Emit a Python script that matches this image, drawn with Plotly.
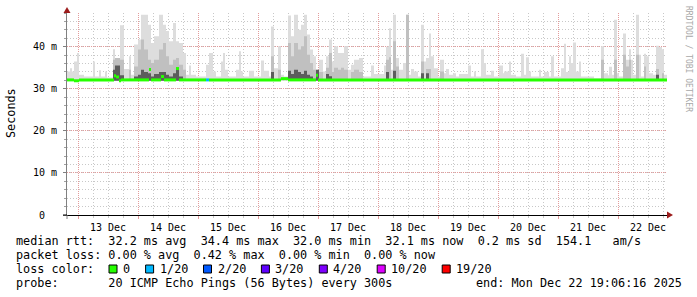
import pandas as pd
import plotly.graph_objects as go

# ---------------- data ----------------
T0 = pd.Timestamp("2025-12-13 00:00")          # reference for hour offsets
X_START = pd.Timestamp("2025-12-12 19:36")
X_END = pd.Timestamp("2025-12-22 19:36")

# smoke columns: start hour (from Dec 13 00:00) and max ping (ms)
smoke_h = [-4.8, -3.2, -2.4, -1.6, -0.4, 0.4, 2.4, 6.0, 6.8, 8.4, 9.2, 10.8, 11.6, 14.0, 14.8, 16.8,
           18.4, 20.4, 21.2, 22.4, 24.0, 25.2, 26.4, 28.0, 29.2, 30.4, 32.4, 34.0, 35.2, 36.4, 38.0,
           39.2, 40.4, 42.0, 43.2, 44.4, 45.2, 47.2, 51.2, 52.4, 54.0, 55.2, 57.2, 58.0, 58.8, 60.0,
           63.2, 64.4, 65.2, 66.0, 68.4, 70.4, 73.2, 74.4, 76.4, 77.2, 78.4, 80.0, 81.2, 82.4, 84.0,
           85.2, 86.4, 88.0, 89.2, 90.4, 91.6, 92.8, 94.0, 95.2, 96.4, 98.0, 99.2, 100.4, 101.6, 102.4,
           104.0, 105.2, 106.4, 108.0, 109.2, 110.4, 112.4, 114.0, 117.2, 118.4, 122.4, 123.2, 124.4,
           125.2, 126.0, 127.2, 128.4, 130.0, 131.2, 132.4, 133.2, 134.4, 136.0, 137.2, 138.4, 139.2,
           140.4, 141.2, 142.4, 144.0, 144.8, 146.4, 147.2, 148.4, 150.0, 151.2, 152.4, 156.0, 157.2,
           158.4, 159.2, 161.2, 162.4, 163.2, 165.2, 166.4, 168.4, 170.0, 170.4, 172.4, 173.2, 175.2,
           177.2, 178.4, 179.2, 180.4, 181.2, 184.4, 185.2, 186.4, 188.4, 189.2, 190.4, 193.2, 194.4,
           195.2, 196.4, 197.2, 198.0, 199.2, 200.4, 201.2, 206.4, 209.2, 210.4, 212.0, 212.4, 213.6,
           214.4, 215.6, 216.4, 218.0, 219.2, 220.4, 221.2, 222.0, 223.2, 224.4, 225.2, 226.4, 227.2,
           228.4, 230.0, 231.2, 232.4, 233.6, 234.4]
smoke_max = [34.1, 34.9, 34.1, 36.5, 38.5, 33.3, 32.9, 36.5, 32.9, 34.4, 32.9, 34.1, 32.7, 39.4, 37.3, 45.1,
             34.7, 37.7, 33.3, 40.5, 41.7, 47.6, 47.6, 45.2, 40.9, 42.5, 47.6, 45.2, 43.7, 41.3, 45.6,
             41.3, 40.9, 38.5, 33.3, 35.5, 33.3, 32.9, 35.7, 38.5, 34.1, 32.9, 36.5, 38.5, 34.5, 32.9,
             34.5, 38.9, 34.1, 32.9, 34.3, 32.9, 36.7, 34.3, 32.9, 44.8, 34.9, 40.1, 33.3, 32.9, 47.4,
             42.5, 47.6, 44.0, 45.2, 47.6, 42.9, 39.3, 37.7, 34.5, 36.9, 34.1, 37.7, 41.7, 36.5, 40.1,
             38.5, 38.5, 40.1, 34.5, 35.7, 36.9, 37.3, 32.9, 35.5, 33.5, 35.5, 40.0, 44.4,
             34.5, 47.6, 37.3, 34.5, 36.1, 47.6, 33.3, 34.7, 34.1, 32.9, 45.2, 36.5, 37.3,
             43.1, 37.7, 34.9, 32.9, 36.9, 33.7, 34.7, 33.3, 33.7, 32.9, 33.5, 35.5, 32.9,
             34.1, 32.9, 39.4, 36.1, 33.3, 34.3, 32.9, 35.5, 33.7, 34.1, 36.5, 33.3, 32.9,
             38.3, 33.3, 37.5, 34.1, 32.9, 34.5, 32.9, 34.0, 32.9, 37.7, 32.9, 34.9, 40.7,
             34.0, 37.7, 36.1, 41.0, 34.1, 36.5, 32.9, 32.5, 40.1, 33.7, 33.2, 35.2, 33.3,
             46.4, 33.7, 32.9, 43.1, 36.9, 39.4, 36.9, 33.3, 47.6, 38.1, 32.9, 38.3, 37.7,
             33.7, 33.3, 40.2, 39.9, 39.4, 33.3]
SMOKE_END_H = 235.6
SMOKE_MIN = 31.9

# denser smoke bands (start hour of the smoke column, top of band in ms)
mid_h = [14.0, 14.8, 16.8, 20.4, 22.4, 24.0, 25.2, 26.4, 28.0, 29.2, 30.4, 32.4, 34.0, 35.2, 36.4,
         38.0, 39.2, 40.4, 42.0, 77.2, 80.0, 84.0, 85.2, 86.4, 88.0, 89.2, 90.4, 91.6, 92.8, 94.0,
         96.4, 99.2, 100.4, 101.6, 102.4, 104.0, 105.2, 106.4, 109.2, 110.4, 112.4, 123.2, 124.4,
         126.0, 127.2, 131.2, 137.2, 139.2, 140.4, 144.8, 209.2, 214.4, 218.0, 219.2, 220.4, 223.2,
         226.4, 231.2, 233.6]
mid_top = [36.9, 37.3, 36.9, 34.5, 35.3, 39.3, 41.7, 39.3, 36.9, 36.1, 36.9, 39.3, 40.9, 37.7, 35.7,
           36.9, 37.3, 35.7, 34.5, 37.7, 34.5, 40.9, 37.7, 40.9, 39.3, 40.1, 42.5, 38.1, 36.1, 34.5,
           34.0, 35.0, 38.5, 34.0, 35.0, 34.5, 35.0, 34.5, 34.0, 34.5, 34.0, 36.9, 37.5,
           41.3, 35.3, 47.6, 36.5, 34.7, 34.7, 34.1, 36.9, 36.9, 38.1, 35.3, 36.9, 38.1,
           35.3, 34.7, 33.7]
dark_h = [14.0, 14.8, 16.8, 22.4, 24.0, 25.2, 26.4, 28.0, 29.2, 30.4, 32.4, 34.0, 35.2, 36.4, 38.0,
          39.2, 40.4, 77.2, 84.0, 85.2, 86.4, 88.0, 89.2, 90.4, 91.6, 92.8, 95.2, 99.2, 100.4, 123.2,
          126.0, 137.2, 139.2, 231.2]
dark_top = [34.5, 35.5, 33.2, 32.9, 33.3, 34.5, 34.0, 33.7, 32.9, 33.5, 34.0, 34.0, 33.3, 32.9, 33.7,
            34.5, 32.9, 34.0, 34.3, 33.5, 34.5, 34.0, 33.5, 34.3, 33.3, 32.9, 34.5, 33.5, 33.0, 34.0,
            34.3, 33.7, 33.7, 33.3]

# median rtt (ms) and packet loss (pings lost of 20), per step starting at hour offset
median_h = [-4.8, -1.6, 0.4, 14.4, 15.2, 16.4, 17.2, 28.4, 29.2, 33.2, 34.4, 39.2, 40.4,
            51.2, 52.4, 81.2, 84.0, 95.2, 96.0]
median_ms = [32.1, 31.9, 32.1, 33.1, 32.8, 31.9, 32.1, 34.6, 32.1, 32.9, 32.1, 34.8, 32.1,
             32.1, 32.1, 32.4, 32.1, 33.2, 32.1]
median_loss = [0, 0, 0, 0, 0, 0, 0, 0, 0, 0, 0, 0, 0, 1, 0, 0, 0, 0, 0]

loss_levels = [0, 1, 2, 3, 4, 10, 19]
loss_labels = ["0", "1/20", "2/20", "3/20", "4/20", "10/20", "19/20"]
loss_colors = ["#26ff00", "#00b8ff", "#0059ff", "#5e00ff", "#7e00ff", "#dd00ff", "#ff0000"]

y_tick_vals = [0, 10, 20, 30, 40]
y_tick_text = ["0\u00a0\u00a0", "10 m", "20 m", "30 m", "40 m"]

legend_lines = [
    "median rtt:  32.2 ms avg  34.4 ms max  32.0 ms min  32.1 ms now  0.2 ms sd  154.1   am/s",
    "packet loss: 0.00 % avg  0.42 % max  0.00 % min  0.00 % now",
    "loss color:",
    "probe:       20 ICMP Echo Pings (56 Bytes) every 300s",
]
end_text = "end: Mon Dec 22 19:06:16 2025"

assert len(smoke_h) == len(smoke_max)
assert len(mid_h) == len(mid_top) and len(dark_h) == len(dark_top)

# ---------------- figure ----------------
MONO = "DejaVu Sans Mono"
W, H = 697, 297
L, R, T, B = 67, 30, 13, 82
PW, PH = W - L - R, H - T - B


def px_x(px):
    return (px - L) / PW


def px_y(py):
    return (H - B - py) / PH


fig = go.Figure()

t_smoke = [T0 + pd.Timedelta(hours=h) for h in smoke_h] + [T0 + pd.Timedelta(hours=SMOKE_END_H)]


def add_layer(tops, color):
    y = list(tops) + [tops[-1]]
    fig.add_trace(go.Scatter(x=t_smoke, y=[SMOKE_MIN] * len(t_smoke), mode="lines",
                             line=dict(width=0, shape="hv"), hoverinfo="skip", showlegend=False))
    fig.add_trace(go.Scatter(x=t_smoke, y=y, mode="lines", line=dict(width=0, shape="hv"),
                             fill="tonexty", fillcolor=color, hoverinfo="skip", showlegend=False))


def on_grid(hs, tops):
    lut = dict(zip(hs, tops))
    return [lut.get(h, SMOKE_MIN) for h in smoke_h]


add_layer(smoke_max, "#dddddd")
add_layer(on_grid(mid_h, mid_top), "#c0c0c0")
add_layer(on_grid(dark_h, dark_top), "#5c5c5c")

# median line, coloured by loss
t_med = [T0 + pd.Timedelta(hours=h) for h in median_h] + [T0 + pd.Timedelta(hours=SMOKE_END_H)]
for lvl, col in zip(loss_levels, loss_colors):
    xs, ys = [], []
    for i, (v, lo) in enumerate(zip(median_ms, median_loss)):
        if lo == lvl:
            xs += [t_med[i], t_med[i + 1], None]
            ys += [v, v, None]
    if xs:
        fig.add_trace(go.Scatter(x=xs, y=ys, mode="lines", line=dict(color=col, width=3),
                                 hoverinfo="skip", showlegend=False))

MAJ = "#e39c9c"
MIN = "#c8c8c8"

fig.update_layout(
    width=W, height=H, autosize=False,
    margin=dict(l=L, r=R, t=T, b=B, pad=0),
    paper_bgcolor="white", plot_bgcolor="white",
    showlegend=False,
    font=dict(family=MONO, size=10, color="black"),
    xaxis=dict(
        type="date", range=[X_START, X_END],
        tick0="2025-12-13", dtick=86400000, ticklabelmode="period", tickformat="%d %b",
        showgrid=True, gridcolor=MAJ, griddash="1px,1px", gridwidth=1,
        ticks="outside", ticklen=3, tickcolor=MAJ,
        minor=dict(dtick=6 * 3600 * 1000, showgrid=True, gridcolor=MIN, griddash="1px,2px",
                   ticks="outside", ticklen=2, tickcolor=MIN),
        showline=True, linecolor="black", linewidth=1, zeroline=False,
        tickfont=dict(family=MONO, size=10, color="black"),
        fixedrange=True,
    ),
    yaxis=dict(
        range=[0, 48], tickmode="array", tickvals=y_tick_vals, ticktext=y_tick_text,
        showgrid=True, gridcolor=MAJ, griddash="1px,1px", gridwidth=1,
        ticks="outside", ticklen=3, tickcolor="#808080",
        minor=dict(tickmode="linear", tick0=0, dtick=2, showgrid=True, gridcolor=MIN,
                   griddash="1px,2px", ticks="outside", ticklen=2, tickcolor="#a0a0a0"),
        showline=True, linecolor="#808080", linewidth=1, zeroline=False,
        tickfont=dict(family=MONO, size=10, color="black"),
        ticklabelstandoff=4,
        fixedrange=True,
    ),
)

ann = []
ann.append(dict(text="Seconds", x=px_x(11), y=px_y(113), xref="paper", yref="paper",
                textangle=-90, showarrow=False, xanchor="center", yanchor="middle",
                font=dict(family=MONO, size=11.8, color="black")))
ann.append(dict(text="RRDTOOL / TOBI OETIKER", x=px_x(688), y=px_y(59), xref="paper", yref="paper",
                textangle=90, showarrow=False, xanchor="center", yanchor="middle",
                font=dict(family=MONO, size=8, color="#a8a8a8")))

line_y = [241, 255, 269, 283]
for txt, yy in zip(legend_lines, line_y):
    ann.append(dict(text=txt.replace(" ", "\u00a0"), x=px_x(16), y=px_y(yy), xref="paper", yref="paper",
                    showarrow=False, xanchor="left", yanchor="middle", borderpad=0, borderwidth=0,
                    font=dict(family=MONO, size=11.8, color="black")))
ann.append(dict(text=end_text.replace(" ", "\u00a0"), x=px_x(682), y=px_y(283), xref="paper", yref="paper",
                showarrow=False, xanchor="right", yanchor="middle", borderpad=0, borderwidth=0,
                font=dict(family=MONO, size=11.8, color="black")))

shapes = []
cur = 109.0
CH = 7.1
for lab, col in zip(loss_labels, loss_colors):
    shapes.append(dict(type="rect", xref="paper", yref="paper",
                       x0=px_x(cur), x1=px_x(cur + 8), y0=px_y(273), y1=px_y(265),
                       fillcolor=col, line=dict(color="black", width=1)))
    ann.append(dict(text=lab, x=px_x(cur + 14), y=px_y(269), xref="paper", yref="paper",
                    showarrow=False, xanchor="left", yanchor="middle", borderpad=0, borderwidth=0,
                    font=dict(family=MONO, size=11.8, color="black")))
    cur += 14 + len(lab) * CH + 15.5

# axis arrows and extensions
ARROW = "#9c1c1c"
shapes.append(dict(type="path", xref="paper", yref="paper",
                   path=f"M {px_x(63.5)} {px_y(13)} L {px_x(70.5)} {px_y(13)} L {px_x(67)} {px_y(7)} Z",
                   fillcolor=ARROW, line=dict(width=0)))
shapes.append(dict(type="path", xref="paper", yref="paper",
                   path=f"M {px_x(667)} {px_y(211.5)} L {px_x(667)} {px_y(218.5)} L {px_x(673)} {px_y(215)} Z",
                   fillcolor=ARROW, line=dict(width=0)))
shapes.append(dict(type="line", xref="paper", yref="paper", x0=px_x(63), x1=0, y0=0, y1=0,
                   line=dict(color="black", width=1)))
shapes.append(dict(type="line", xref="paper", yref="paper", x0=0, x1=0, y0=px_y(219), y1=0,
                   line=dict(color="#808080", width=1)))

fig.update_layout(annotations=ann, shapes=shapes)

fig.write_html("out.html")
